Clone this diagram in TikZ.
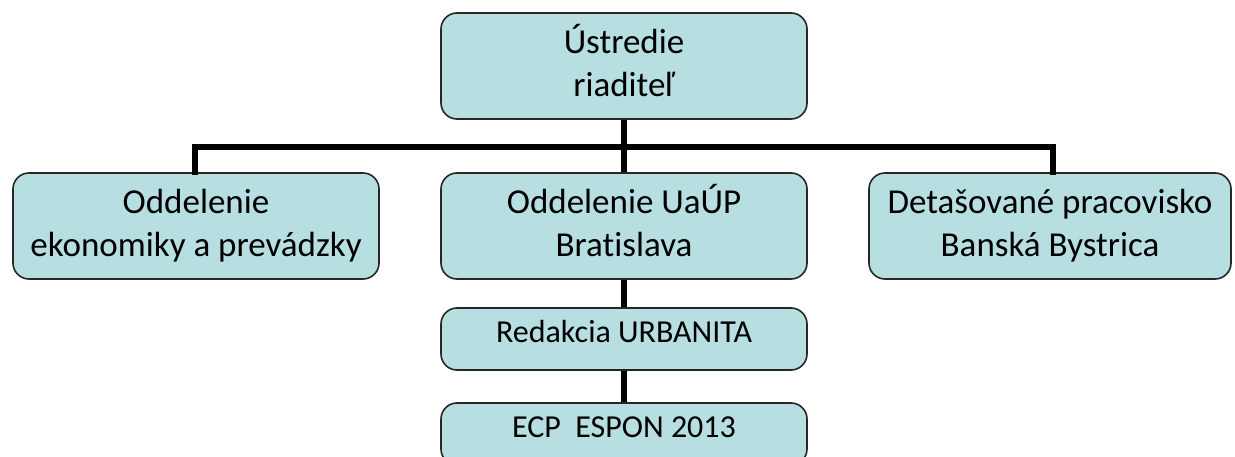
\documentclass[tikz,border=0pt]{standalone}
\usepackage{fontspec}
\setmainfont[Ligatures=NoCommon]{Carlito}
\usetikzlibrary{calc}
\definecolor{boxfill}{RGB}{183,222,225}

\begin{document}
\begin{tikzpicture}[x=1pt,y=-1pt]
	\path [use as bounding box] (0,0) rectangle (1235,457);
	\tikzstyle{unit} = [draw=black!85, line width=1.6pt, fill=boxfill, rounded corners=16pt, align=center, inner sep=0pt]
	\tikzstyle{bigbox} = [unit, minimum width=366pt, minimum height=106pt, font=\fontsize{35}{43}\selectfont]
	\tikzstyle{smallbox} = [unit, minimum width=366pt, minimum height=62pt, font=\fontsize{32}{36}\selectfont,
		text height=20pt, text depth=14pt]
	\tikzstyle{link} = [line width=6pt]
	\node[bigbox] (hq) at (624,66) {\smash{Ú}stredie\\riaditeľ\vphantom{y}};
	\node[bigbox] (econ) at (196,226) {Oddelenie\\ekonomiky a prevádzky};
	\node[bigbox] (uaup) at (624,226) {Oddelenie Ua\smash{Ú}P\\Bratislava\vphantom{y}};
	\node[bigbox, minimum width=362pt] (bb) at (1050,226) {Detašované pracovisko\\Banská Bystrica};
	\node[smallbox] (urb) at (624,339) {Redakcia URBANITA};
	\node[smallbox] (espon) at (624,434) {ECP\ \ ESPON 2013};
	\coordinate (barL) at (195,147.5);
	\coordinate (barR) at (1053,147.5);
	\draw[link] (hq) -- (uaup);
	\draw[link, line cap=rect] (econ.north -| barL) -- (barL) -- (barR) -- (bb.north -| barR);
	\draw[link] (uaup) -- (urb);
	\draw[link] (urb) -- (espon);
\end{tikzpicture}
\end{document}
